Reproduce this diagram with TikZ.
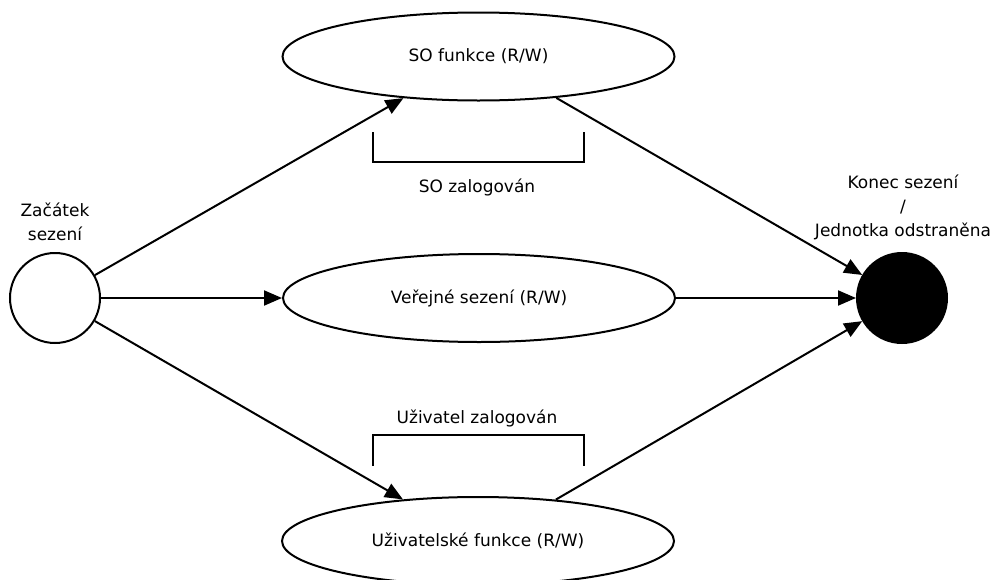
\documentclass[tikz,border=0pt]{standalone}
\usepackage{fontspec}
\setmainfont{DejaVu Sans}
\usetikzlibrary{shapes.geometric,arrows.meta}
\begin{document}
\begin{tikzpicture}[x=1pt,y=-1pt,
  font=\fontsize{17}{24}\selectfont,
  line width=2pt,
  state/.style={draw,ellipse,minimum width=392pt,minimum height=88pt,inner sep=0pt},
  terminal/.style={draw,circle,minimum size=90pt,inner sep=0pt},
  flow/.style={-{Triangle[length=18pt,width=15pt]}},
  bracket/.style={line cap=rect},
  lbl/.style={align=center,inner sep=0pt}]
\useasboundingbox (0,0) rectangle (994,579);

% states
\node[state] (top) at (478.5,56.5) {SO funkce (R/W)};
\node[state] (mid) at (479,298) {Veřejné sezení (R/W)};
\node[state] (bot) at (478,541) {Uživatelské funkce (R/W)};

% initial and final pseudo-states
\node[terminal] (start) at (55,298) {};
\node[terminal,fill=black] (end) at (902,298) {};

\node[lbl] (startlbl) at (55,222) {Začátek\\sezení};
\node[lbl] (endlbl) at (903,207) {Konec sezení\\/\\Jednotka odstraněna};

% transitions
\draw[flow] (start) -- (top.-151.3);
\draw[flow] (start) -- (mid);
\draw[flow] (start) -- (bot.151.1);
\draw[flow] (top.-28.7) -- (end);
\draw[flow] (mid) -- (end);
\draw[flow] (bot.28.9) -- (end);

% login brackets
\coordinate (b1a) at (373,133);
\coordinate (b1b) at (584,133);
\draw[bracket] (b1a) -- (373,162) -- (584,162) -- (b1b);
\node[lbl] (solbl) at (477,187) {SO zalogován};

\coordinate (b2a) at (373,465);
\coordinate (b2b) at (584,465);
\draw[bracket] (b2a) -- (373,435) -- (584,435) -- (b2b);
\node[lbl] (uzlbl) at (477,418) {Uživatel zalogován};
\end{tikzpicture}
\end{document}
